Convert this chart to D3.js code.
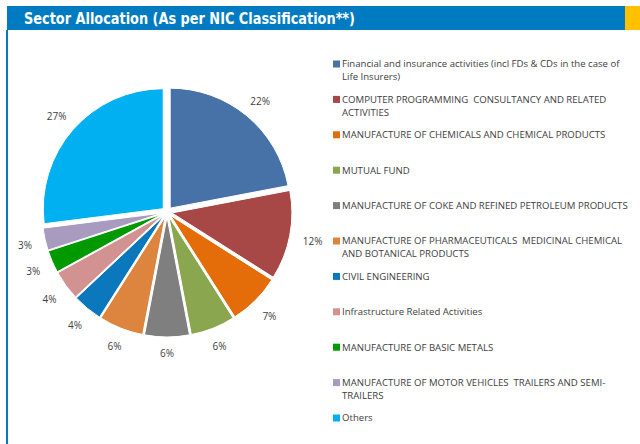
<!DOCTYPE html>
<html>
<head>
<meta charset="utf-8">
<script src="https://cdn.jsdelivr.net/npm/d3@7"></script>
<style>
  body { margin: 0; background: #fff; }
  svg text { white-space: pre; }
</style>
</head>
<body>
<div id="chart"></div>
<script>
// sector names (explicit line breaks as in the legend)
var sectors = [
  "Financial and insurance activities (incl FDs & CDs in the case of\nLife Insurers)",
  "COMPUTER PROGRAMMING  CONSULTANCY AND RELATED\nACTIVITIES",
  "MANUFACTURE OF CHEMICALS AND CHEMICAL PRODUCTS",
  "MUTUAL FUND",
  "MANUFACTURE OF COKE AND REFINED PETROLEUM PRODUCTS",
  "MANUFACTURE OF PHARMACEUTICALS  MEDICINAL CHEMICAL\nAND BOTANICAL PRODUCTS",
  "CIVIL ENGINEERING",
  "Infrastructure Related Activities",
  "MANUFACTURE OF BASIC METALS",
  "MANUFACTURE OF MOTOR VEHICLES  TRAILERS AND SEMI-\nTRAILERS",
  "Others"
]
var shares = [22, 12, 7, 6, 6, 6, 4, 4, 3, 3, 27]
var sliceColors = ["#4672a7","#a74746","#e46d0a","#8aa64f","#7f7f7f","#dd853f",
  "#0b78bd","#d39292","#009900","#a99bbf","#00b0f0"]

var title = "Sector Allocation (As per NIC Classification**)"

var W = 640, H = 444
var svg = d3.select("#chart").append("svg").attr("width",W).attr("height",H)

// header band
svg.append("rect").attr("x",7).attr("y",6).attr("width",618).attr("height",24).attr("fill","#007bc2")
svg.append("rect").attr("x",625).attr("y",6).attr("width",15).attr("height",24).attr("fill","#ffc000")
svg.append("rect").attr("x",6).attr("y",30).attr("width",2).attr("height",H-30).attr("fill","#007bc2")

var titleText = svg.append("text")
  .attr("x",24).attr("y",24)
  .attr("fill","#fff")
  .attr("font-family","'DejaVu Sans Condensed','DejaVu Sans',sans-serif")
  .attr("font-weight","bold")
  .attr("font-size",15)
  .text(title)
if (titleText.node().getComputedTextLength() > 331) {
  titleText.attr("textLength",331).attr("lengthAdjust","spacingAndGlyphs")
}

// pie
var cx = 167, cy = 212, radius = 120, explode = 5, labelGap = 136
var pie = d3.pie().sort(null).value(function(d){ return d })
var arc = d3.arc().innerRadius(0).outerRadius(radius)
var arcs = pie(shares)

var g = svg.append("g").attr("transform","translate("+cx+","+cy+")")

g.selectAll("path.slice")
  .data(arcs)
  .enter()
  .append("path")
  .attr("class","slice")
  .attr("d",arc)
  .attr("fill",function(d,i){ return sliceColors[i] })
  .attr("stroke","#fff")
  .attr("stroke-width",1)
  .attr("transform",function(d){
    var mid = (d.startAngle+d.endAngle)/2
    return "translate("+(Math.sin(mid)*explode)+","+(-Math.cos(mid)*explode)+")"
  })

// labels sit just outside the pie, pushed out by half their box
g.selectAll("text.pct")
  .data(arcs)
  .enter()
  .append("text")
  .attr("class","pct")
  .attr("dy","0.35em")
  .attr("text-anchor","middle")
  .attr("font-family","'Open Sans',sans-serif")
  .attr("font-size",10)
  .attr("fill","#404040")
  .text(function(d){ return d.data+"%" })
  .each(function(d){
    var mid = (d.startAngle+d.endAngle)/2
    var s = Math.sin(mid), c = -Math.cos(mid)
    var w = this.getComputedTextLength()
    var r = labelGap + (w/2+2)*Math.abs(s) + 3.5*Math.abs(c)
    d3.select(this).attr("x", s*r).attr("y", c*r + 2)
  })

// legend
var legendY = d3.scaleLinear().domain([0, sectors.length-1]).range([64, 418])
var legend = svg.append("g")

var items = legend.selectAll("g.item")
  .data(sectors)
  .enter()
  .append("g")
  .attr("class","item")
  .attr("transform",function(d,i){ return "translate(333,"+legendY(i)+")" })

items.append("rect")
  .attr("x",0).attr("y",-3.5)
  .attr("width",7).attr("height",7)
  .attr("fill",function(d,i){ return sliceColors[i] })

var labels = items.append("text")
  .attr("font-family","'Open Sans',sans-serif")
  .attr("font-size",9.6)
  .attr("fill","#404040")

labels.selectAll("tspan")
  .data(function(d){ return d.split("\n") })
  .enter()
  .append("tspan")
  .attr("x",9)
  .attr("y",function(d,i){ return i*13 })
  .attr("dy","0.35em")
  .text(function(d){ return d })

// fit legend font so the widest line matches the original width
var widest = 0
labels.selectAll("tspan").each(function(){
  widest = Math.max(widest, this.getComputedTextLength())
})
if (widest > 0) labels.attr("font-size", 9.6*286/widest)
</script>
</body>
</html>
